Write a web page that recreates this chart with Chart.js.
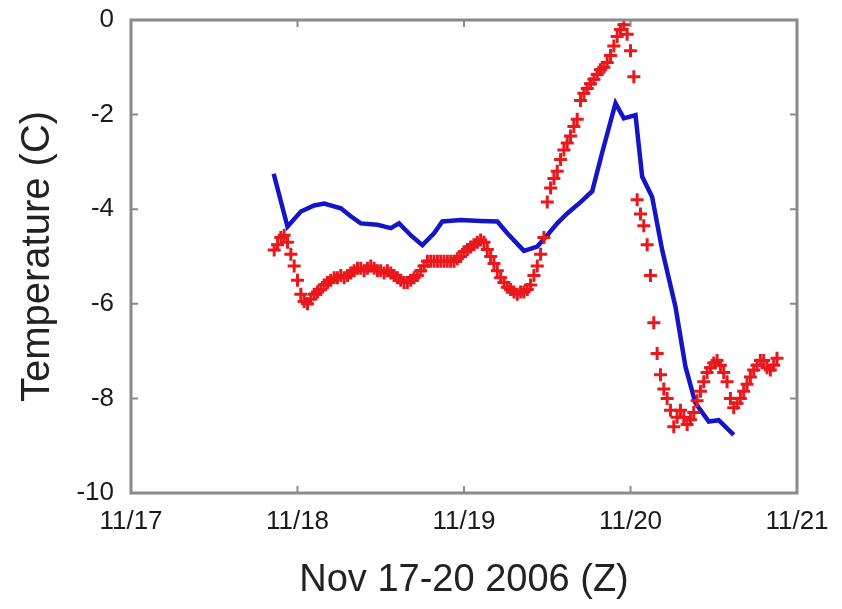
<!DOCTYPE html>
<html>
<head>
<meta charset="utf-8">
<script src="https://cdn.jsdelivr.net/npm/chart.js@4.4.1/dist/chart.umd.min.js"></script>
<style>
  html, body { margin: 0; padding: 0; background: #fff; }
  #wrap { width: 842px; height: 609px; }
</style>
</head>
<body>
<div id="wrap"><canvas id="chart" width="842" height="609"></canvas></div>
<script>
// tick labels (x is day of November 2006)
const dayTicks = [17, 18, 19, 20, 21];
const tempTicks = [0, -2, -4, -6, -8, -10];

// blue line
const blueDays = [17.857, 17.94, 18.02, 18.10, 18.16, 18.26, 18.32, 18.38, 18.48, 18.56,
                  18.61, 18.68, 18.75, 18.82, 18.87, 18.98, 19.10, 19.20, 19.26, 19.36,
                  19.44, 19.50, 19.56, 19.62, 19.70, 19.77, 19.83, 19.91, 19.96, 20.03,
                  20.07, 20.13, 20.19, 20.27, 20.33, 20.39, 20.47, 20.53, 20.62];
const blueTemps = [-3.25, -4.37, -4.05, -3.92, -3.88, -3.98, -4.15, -4.30, -4.33, -4.40,
                   -4.30, -4.55, -4.76, -4.51, -4.26, -4.23, -4.25, -4.26, -4.51, -4.88,
                   -4.79, -4.55, -4.30, -4.09, -3.85, -3.62, -2.80, -1.76, -2.08, -2.01,
                   -3.31, -3.74, -4.86, -6.06, -7.33, -8.10, -8.49, -8.46, -8.77];

// red crosses
const redDays = [17.86, 17.88, 17.90, 17.92, 17.94, 17.96, 17.98, 18.00, 18.02, 18.04,
                 18.06, 18.08, 18.10, 18.12, 18.14, 18.16, 18.18, 18.20, 18.22, 18.24,
                 18.26, 18.28, 18.30, 18.32, 18.34, 18.36, 18.38, 18.40, 18.42, 18.44,
                 18.46, 18.48, 18.50, 18.52, 18.54, 18.56, 18.58, 18.60, 18.62, 18.64,
                 18.66, 18.68, 18.70, 18.72, 18.74, 18.76, 18.78, 18.80, 18.82, 18.84,
                 18.86, 18.88, 18.90, 18.92, 18.94, 18.96, 18.98, 19.00, 19.02, 19.04,
                 19.06, 19.08, 19.10, 19.12, 19.14, 19.16, 19.18, 19.20, 19.22, 19.24,
                 19.26, 19.28, 19.30, 19.32, 19.34, 19.36, 19.38, 19.40, 19.42, 19.44,
                 19.46, 19.48, 19.50, 19.52, 19.54, 19.56, 19.58, 19.60, 19.62, 19.64,
                 19.66, 19.68, 19.70, 19.72, 19.74, 19.76, 19.78, 19.80, 19.82, 19.84,
                 19.86, 19.88, 19.90, 19.92, 19.94, 19.96, 19.98, 20.00, 20.02, 20.04,
                 20.06, 20.08, 20.10, 20.12, 20.14, 20.16, 20.18, 20.20, 20.22, 20.24,
                 20.26, 20.28, 20.30, 20.32, 20.34, 20.36, 20.38, 20.40, 20.42, 20.44,
                 20.46, 20.48, 20.50, 20.52, 20.54, 20.56, 20.58, 20.60, 20.62, 20.64,
                 20.66, 20.68, 20.70, 20.72, 20.74, 20.76, 20.78, 20.80, 20.82, 20.84,
                 20.86, 20.88];
const redTemps = [-4.86, -4.75, -4.6, -4.55, -4.7, -4.95, -5.2, -5.5, -5.8, -5.95,
                  -6.0, -5.9, -5.8, -5.75, -5.7, -5.6, -5.55, -5.5, -5.45, -5.45,
                  -5.4, -5.45, -5.4, -5.35, -5.3, -5.25, -5.25, -5.3, -5.25, -5.2,
                  -5.25, -5.3, -5.3, -5.35, -5.3, -5.35, -5.4, -5.45, -5.5, -5.55,
                  -5.55, -5.5, -5.45, -5.4, -5.3, -5.2, -5.1, -5.1, -5.1, -5.1,
                  -5.1, -5.1, -5.1, -5.1, -5.1, -5.05, -5.0, -4.9, -4.85, -4.8,
                  -4.75, -4.7, -4.65, -4.7, -4.85, -5.0, -5.15, -5.3, -5.45, -5.55,
                  -5.65, -5.7, -5.75, -5.8, -5.75, -5.75, -5.7, -5.6, -5.4, -5.2,
                  -4.95, -4.6, -3.85, -3.55, -3.35, -3.2, -2.95, -2.75, -2.6, -2.45,
                  -2.25, -2.1, -1.7, -1.55, -1.45, -1.35, -1.25, -1.15, -1.05, -1.0,
                  -0.9, -0.75, -0.55, -0.35, -0.2, -0.1, -0.3, -0.65, -1.2, -3.8,
                  -4.1, -4.35, -4.75, -5.4, -6.4, -7.05, -7.5, -7.8, -8.0, -8.25,
                  -8.6, -8.4, -8.25, -8.4, -8.55, -8.45, -8.3, -8.05, -7.85, -7.65,
                  -7.45, -7.35, -7.25, -7.2, -7.3, -7.45, -7.65, -8.0, -8.2, -8.1,
                  -8.0, -7.85, -7.7, -7.55, -7.4, -7.3, -7.2, -7.2, -7.35, -7.4,
                  -7.3, -7.15];

const toPoints = (xs, ys) => xs.map((x, i) => ({ x: x, y: ys[i] }));

// box round the plot with small inward ticks on every side
const frame = {
    id: 'frame',
    afterDraw(chart) {
        const c = chart.ctx, a = chart.chartArea;
        const sx = chart.scales.x, sy = chart.scales.y;
        c.save();
        c.strokeStyle = '#8a8a8a';
        c.lineWidth = 3;
        c.strokeRect(a.left, a.top, a.right - a.left, a.bottom - a.top);
        c.lineWidth = 2;
        c.beginPath();
        dayTicks.forEach(d => {
            const px = sx.getPixelForValue(d);
            c.moveTo(px, a.bottom); c.lineTo(px, a.bottom - 7);
            c.moveTo(px, a.top); c.lineTo(px, a.top + 7);
        });
        tempTicks.forEach(t => {
            const py = sy.getPixelForValue(t);
            c.moveTo(a.left, py); c.lineTo(a.left + 7, py);
            c.moveTo(a.right, py); c.lineTo(a.right - 7, py);
        });
        c.stroke();
        c.restore();
    }
};

const fontFam = '"Liberation Sans", Arial, sans-serif';

new Chart(document.getElementById('chart').getContext('2d'), {
    type: 'scatter',
    data: {
        datasets: [
            {
                label: 'red',
                data: toPoints(redDays, redTemps),
                showLine: false,
                pointStyle: 'cross',
                pointRadius: 6.5,
                borderColor: '#e8181c',
                borderWidth: 3
            },
            {
                label: 'blue',
                data: toPoints(blueDays, blueTemps),
                showLine: true,
                pointRadius: 0,
                borderColor: '#1515c8',
                borderWidth: 4.5,
                tension: 0
            }
        ]
    },
    options: {
        responsive: false,
        animation: false,
        layout: { padding: { left: 0, right: 45, top: 20, bottom: 0 } },
        plugins: { legend: { display: false }, tooltip: { enabled: false } },
        scales: {
            x: {
                type: 'linear',
                min: 17, max: 21,
                afterBuildTicks: s => { s.ticks = dayTicks.map(v => ({ value: v })); },
                afterFit: s => { s.height = 116; },
                grid: { display: false },
                border: { display: false },
                ticks: {
                    color: '#1a1a1a',
                    padding: 5,
                    font: { family: fontFam, size: 26 },
                    callback: v => '11/' + v
                },
                title: {
                    display: true,
                    text: 'Nov 17-20 2006 (Z)',
                    color: '#222',
                    font: { family: fontFam, size: 38 },
                    padding: { top: 0, bottom: 6 }
                }
            },
            y: {
                min: -10, max: 0,
                afterBuildTicks: s => { s.ticks = tempTicks.map(v => ({ value: v })); },
                afterFit: s => { s.width = 131; s.paddingTop = 0; s.paddingBottom = 0; },
                grid: { display: false },
                border: { display: false },
                ticks: {
                    color: '#1a1a1a',
                    padding: 9,
                    font: { family: fontFam, size: 26 }
                },
                title: {
                    display: true,
                    text: 'Temperature (C)',
                    color: '#222',
                    font: { family: fontFam, size: 40 },
                    padding: { top: 14, bottom: 0 }
                }
            }
        }
    },
    plugins: [frame]
});
</script>
</body>
</html>
